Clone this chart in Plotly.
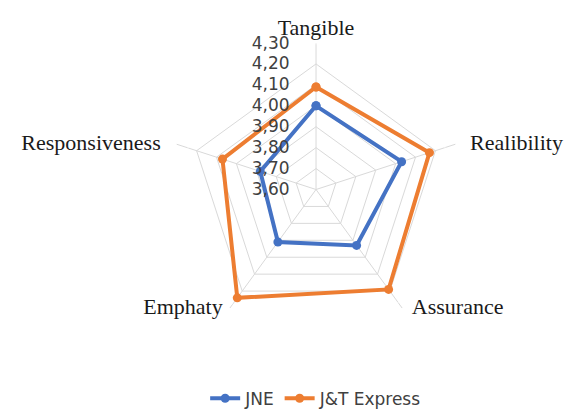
import plotly.graph_objects as go

categories = ["Tangible", "Realibility", "Assurance", "Emphaty", "Responsiveness"]
jne = [4.00, 4.03, 3.93, 3.91, 3.88]
jnt = [4.09, 4.17, 4.19, 4.24, 4.07]
tick_vals = [3.6, 3.7, 3.8, 3.9, 4.0, 4.1, 4.2, 4.3]
r_max = 4.3

fig = go.Figure()
fig.add_trace(go.Scatterpolar(r=jne + jne[:1], theta=categories + categories[:1], name="JNE",
                              mode="lines+markers", line=dict(color="#4472C4", width=4),
                              marker=dict(size=9, color="#4472C4")))
fig.add_trace(go.Scatterpolar(r=jnt + jnt[:1], theta=categories + categories[:1], name="J&T Express",
                              mode="lines+markers", line=dict(color="#ED7D31", width=4),
                              marker=dict(size=9, color="#ED7D31")))
# category labels placed beside the outer vertices, Excel-style
# (invisible marker sizes only tune the text gap)
fig.add_trace(go.Scatterpolar(r=[r_max] * len(categories), theta=categories, text=categories,
                              mode="markers+text", showlegend=False, hoverinfo="skip",
                              cliponaxis=False,
                              marker=dict(size=[2, 22, 14, 10, 24], color="rgba(0,0,0,0)"),
                              textposition=["top center", "middle right", "middle right",
                                            "middle left", "middle left"],
                              textfont=dict(family="Liberation Serif", size=22, color="#1a1a1a")))

fig.update_layout(
    width=576, height=412,
    margin=dict(l=0, r=0, t=0, b=0),
    paper_bgcolor="white",
    separators=", ",
    showlegend=True,
    legend=dict(orientation="h", x=0.535, xanchor="center", y=0.008, yanchor="bottom",
                font=dict(family="DejaVu Sans", size=17, color="#404040")),
    polar=dict(
        domain=dict(x=[0.2804, 0.7891], y=[0.2039, 0.9150]),
        bgcolor="white",
        gridshape="linear",
        angularaxis=dict(rotation=90, direction="clockwise", showline=False,
                         gridcolor="#D9D9D9", gridwidth=1, showticklabels=False, ticks=""),
        radialaxis=dict(range=[3.6, r_max], tickvals=tick_vals, tickformat=".2f",
                        angle=90, tickangle=90, side="counterclockwise",
                        showline=False, ticks="outside", ticklen=20, tickcolor="rgba(0,0,0,0)",
                        gridcolor="#D9D9D9", gridwidth=1,
                        tickfont=dict(family="DejaVu Sans", size=17, color="#404040")),
    ),
)

fig.write_html("out.html")
